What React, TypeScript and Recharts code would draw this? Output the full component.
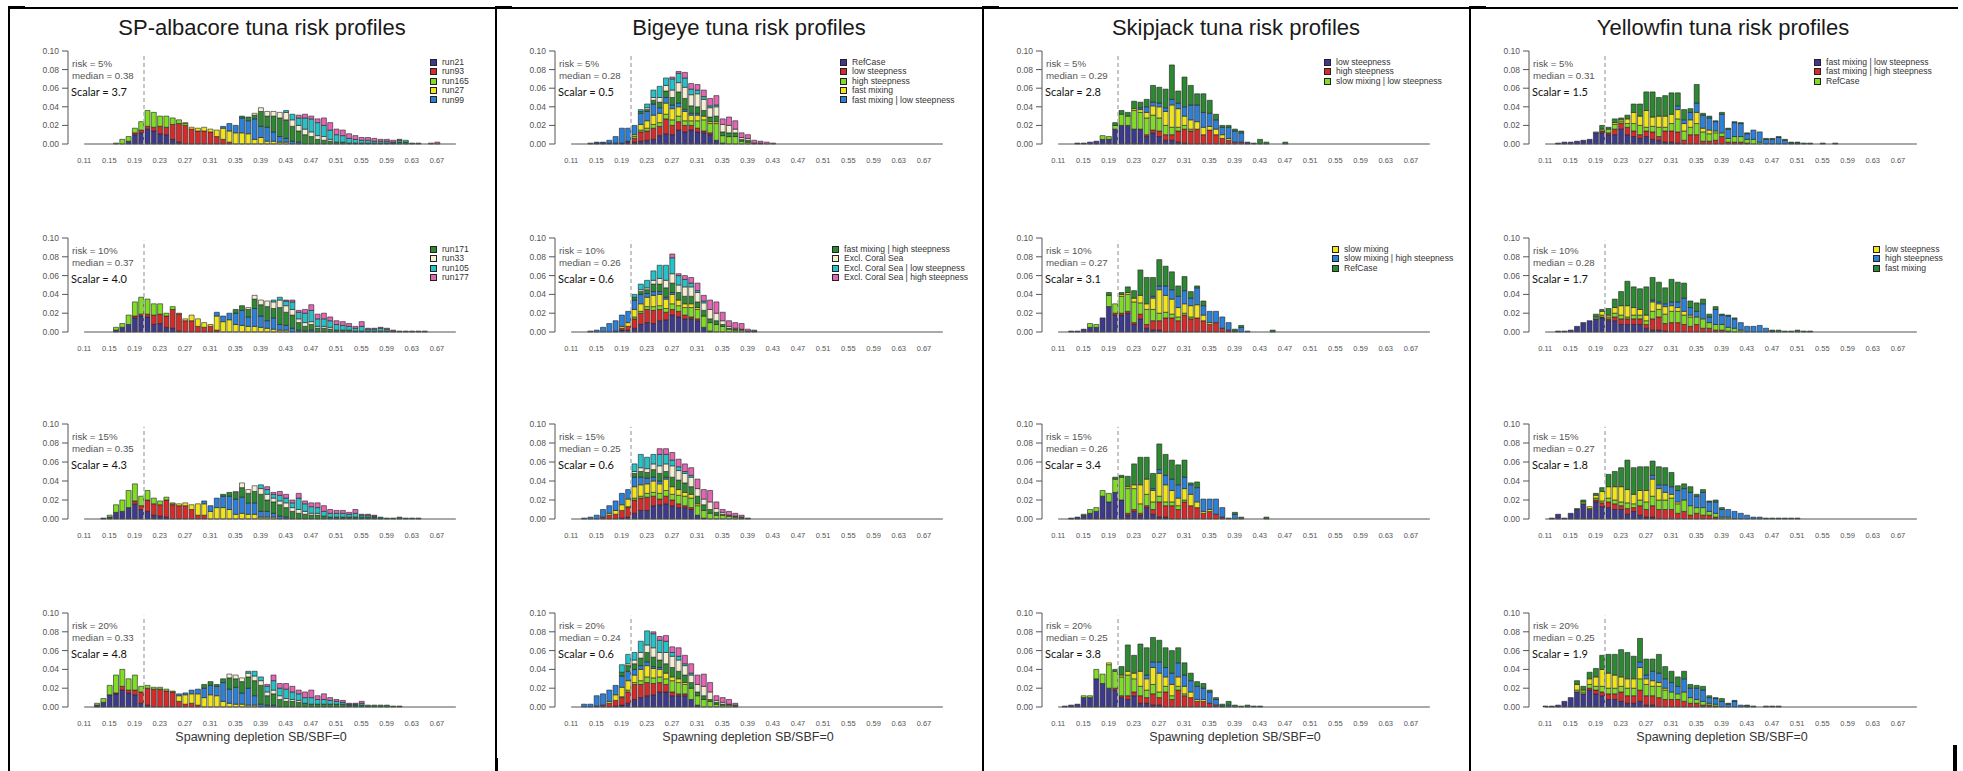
import React from 'react';
import { BarChart, Bar, XAxis, YAxis, ReferenceLine } from 'recharts';

// [first bin in hundredths, heights of consecutive 0.01 bins in thousandths]
type Run = [number, number[]];

const BINS = Array.from({ length: 60 }, (_, i) => ((11 + i) / 100).toFixed(2));
const Y_TICKS = [0, 0.02, 0.04, 0.06, 0.08, 0.1];
const RISKS = ['5%', '10%', '15%', '20%'];

const COLORS = ['#3d3a8e', '#d62b2b', '#80dc24', '#f0e51c', '#2d80d8', '#2d8832', '#f4efd4', '#25c2ca', '#e266b4'];

// ---- SP-albacore ----
const ALB_NAMES = ['run21', 'run93', 'run165', 'run27', 'run99', 'run171', 'run33', 'run105', 'run177'];
const ALB_MEDIANS = ['0.38', '0.37', '0.35', '0.33'];
const ALB_SCALARS = ['3.7', '4.0', '4.3', '4.8'];
const ALB_05: Run[] = [
  [18, [3, 10, 12, 16, 14, 11, 10, 5, 2]],
  [19, [2, 3, 3, 4, 8, 8, 16, 20, 20, 16, 14, 14, 13, 8, 5, 2]],
  [16, [1, 5, 5, 5, 9, 17, 16, 11, 12, 7, 4, 2]],
  [27, [1, 2, 3, 4, 3, 7, 12, 12, 12, 12, 11, 5, 7, 3, 3, 2, 2]],
  [33, [2, 8, 8, 16, 14, 22, 12, 15, 10, 6, 4, 3, 2]],
  [36, [2, 4, 4, 16, 12, 17, 20, 20, 16, 12, 10, 8, 5, 4, 3, 2, 2, 1, 1, 1, 1, 1, 1, 1, 1, 2, 2, 1, 1]],
  [38, [2, 4, 5, 5, 6, 8, 7, 6, 6, 5, 4, 4, 2]],
  [43, [2, 6, 8, 12, 14, 14, 12, 10, 8, 7, 5, 4, 3, 3, 2, 2, 2, 1, 2, 2]],
  [45, [3, 4, 3, 4, 8, 8, 6, 6, 5, 4, 3, 3, 3, 2, 2, 2, 1, 0, 0, 0, 0, 1, 2]],
];
const ALB_10: Run[] = [
  [16, [2, 5, 8, 15, 17, 16, 8, 9, 5, 4, 1]],
  [19, [2, 2, 3, 10, 10, 12, 20, 18, 12, 12, 6, 5, 6, 2]],
  [16, [3, 4, 10, 15, 18, 16, 12, 11, 3, 3, 1]],
  [27, [2, 6, 8, 5, 2, 15, 11, 13, 8, 7, 6, 6, 5, 4, 3, 2, 2]],
  [32, [4, 6, 7, 12, 16, 10, 19, 12, 8, 12, 6, 5, 4, 2, 1, 2]],
  [35, [4, 5, 8, 10, 12, 15, 10, 18, 14, 14, 8, 5, 6, 4, 4, 3, 2, 2, 2, 1, 1, 1, 1, 1, 1, 1, 1, 1, 1, 1, 1]],
  [37, [2, 4, 5, 6, 7, 8, 7, 6, 4, 4, 3, 2, 2, 2]],
  [41, [2, 3, 5, 8, 7, 10, 12, 8, 8, 7, 6, 5, 4, 3, 5, 2, 2, 3, 2]],
  [43, [1, 2, 2, 4, 6, 5, 6, 4, 4, 4, 3, 2, 5, 1, 1, 1, 1, 1]],
];
const ALB_15: Run[] = [
  [14, [1, 2, 7, 8, 12, 16, 10, 8, 4, 3, 2]],
  [19, [3, 4, 12, 12, 12, 18, 15, 14, 14, 10, 4, 4]],
  [15, [2, 8, 12, 18, 18, 10, 10, 6, 4, 3, 1]],
  [25, [1, 2, 3, 5, 12, 12, 8, 12, 12, 10, 5, 6, 5, 5, 2, 2, 2]],
  [30, [3, 6, 10, 12, 14, 16, 17, 12, 12, 6, 6, 4, 3, 2]],
  [33, [2, 4, 7, 10, 10, 12, 18, 12, 12, 12, 10, 8, 6, 5, 4, 4, 3, 2, 2, 2, 2, 2, 2, 2, 2, 1, 1, 1, 2, 1, 1, 1]],
  [35, [1, 5, 4, 6, 6, 6, 4, 4, 5, 4, 4, 3, 2, 2]],
  [39, [4, 5, 4, 6, 5, 5, 12, 8, 7, 6, 5, 4, 4, 4, 3, 4, 2, 2, 1, 1]],
  [40, [3, 2, 4, 4, 3, 5, 3, 4, 5, 6, 4, 3, 3, 2, 4, 1, 1, 1]],
];
const ALB_20: Run[] = [
  [13, [2, 5, 13, 14, 18, 15, 13, 4, 2]],
  [16, [1, 4, 3, 5, 12, 18, 19, 19, 17, 16, 6, 3, 4, 2]],
  [13, [2, 4, 10, 19, 18, 12, 16, 6, 3, 2, 2, 2, 1]],
  [26, [6, 10, 10, 12, 10, 13, 12, 6, 4, 3, 3, 2, 2]],
  [26, [2, 2, 4, 5, 10, 10, 10, 20, 15, 18, 12, 18, 10, 3, 2, 2]],
  [30, [4, 4, 2, 4, 12, 9, 12, 12, 16, 20, 10, 12, 8, 6, 6, 5, 4, 3, 3, 3, 3, 3, 3, 2, 2, 2, 2, 2, 2, 2, 1, 1]],
  [34, [4, 4, 4, 4, 5, 5, 4, 4, 4, 3, 2, 2]],
  [37, [2, 5, 4, 6, 10, 8, 10, 8, 7, 6, 7, 5, 5, 4, 3, 2, 1, 1, 2]],
  [40, [2, 6, 5, 6, 6, 4, 6, 8, 4, 6, 3, 2, 2, 1, 1, 2]],
];

// ---- Bigeye ----
const BET_NAMES = ['RefCase', 'low steepness', 'high steepness', 'fast mixing', 'fast mixing | low steepness',
  'fast mixing | high steepness', 'Excl. Coral Sea', 'Excl. Coral Sea | low steepness', 'Excl. Coral Sea | high steepness'];
const BET_MEDIANS = ['0.28', '0.26', '0.25', '0.24'];
const BET_SCALARS = ['0.5', '0.6', '0.6', '0.6'];
const BET_05: Run[] = [
  [15, [1, 1, 1, 1, 1, 2, 2, 3, 4, 5, 9, 11, 10, 15, 13, 15, 13, 12, 10, 4, 1]],
  [20, [1, 4, 10, 10, 12, 10, 16, 10, 9, 7, 5, 4, 2, 2]],
  [21, [2, 2, 3, 4, 4, 5, 6, 6, 5, 5, 8, 12, 10, 18, 8, 8, 8, 3, 2]],
  [21, [2, 6, 8, 10, 10, 12, 12, 10, 10, 6, 6, 4, 2, 2]],
  [14, [1, 1, 1, 3, 7, 16, 14, 10, 12, 10, 12, 6, 6, 4, 4, 2, 2, 2]],
  [22, [2, 2, 4, 6, 7, 8, 12, 12, 8, 7, 6, 5, 6, 4, 4, 4, 2, 2, 1, 1]],
  [23, [2, 3, 5, 6, 8, 10, 12, 12, 14, 12, 10, 10, 8, 8, 4, 2, 2]],
  [22, [2, 4, 8, 12, 8, 12, 10, 10, 6, 4, 3, 2, 2]],
  [27, [2, 2, 6, 6, 6, 7, 8, 10, 6, 9, 9, 5, 4, 3, 2, 2, 1]],
];
const BET_10: Run[] = [
  [18, [1, 2, 2, 4, 8, 10, 9, 12, 13, 18, 16, 14, 14, 12, 5, 1]],
  [19, [2, 4, 10, 12, 14, 14, 12, 8, 6, 6, 4, 2, 2]],
  [21, [2, 2, 3, 4, 4, 4, 6, 6, 8, 10, 10, 12, 9, 8, 6, 3, 2, 2]],
  [19, [2, 4, 8, 8, 10, 12, 12, 10, 10, 6, 4, 4, 2]],
  [14, [1, 2, 5, 9, 11, 12, 12, 10, 10, 4, 4, 3, 2, 2]],
  [21, [3, 3, 4, 8, 8, 10, 10, 8, 8, 8, 6, 6, 4, 4, 2, 1, 1, 1, 1, 1]],
  [22, [2, 2, 4, 6, 8, 10, 8, 10, 10, 10, 8, 10, 8, 4, 2, 1]],
  [21, [3, 6, 8, 10, 14, 16, 17, 10, 8, 4, 2, 2]],
  [27, [4, 2, 4, 6, 8, 6, 10, 12, 9, 6, 6, 6, 2, 1]],
];
const BET_15: Run[] = [
  [19, [1, 2, 6, 9, 9, 14, 15, 16, 14, 12, 12, 10, 4, 1]],
  [16, [2, 4, 5, 8, 10, 14, 13, 14, 10, 6, 8, 6, 4, 2, 2]],
  [20, [1, 2, 2, 4, 4, 6, 6, 6, 9, 10, 10, 10, 8, 6, 4, 4, 3, 2]],
  [17, [2, 4, 6, 8, 12, 12, 10, 12, 10, 12, 8, 6, 4, 4, 2]],
  [13, [1, 2, 4, 8, 8, 10, 12, 10, 10, 8, 6, 4, 3, 2]],
  [21, [4, 6, 6, 8, 8, 6, 10, 10, 10, 8, 8, 6, 4, 3, 1, 1, 1, 2, 1]],
  [21, [2, 4, 4, 6, 8, 8, 12, 10, 10, 10, 8, 6, 8, 4, 2]],
  [21, [8, 14, 12, 10, 12, 10, 6, 4, 2, 2]],
  [25, [6, 6, 8, 8, 8, 8, 10, 10, 12, 7, 3, 4, 3, 2]],
];
const BET_20: Run[] = [
  [18, [1, 2, 4, 8, 10, 12, 13, 16, 16, 12, 12, 12, 8, 2]],
  [15, [1, 2, 4, 6, 8, 12, 16, 14, 14, 12, 10, 8, 4, 2, 2]],
  [19, [1, 2, 2, 4, 6, 6, 6, 6, 12, 12, 10, 12, 10, 8, 6, 3, 2, 2]],
  [17, [2, 6, 10, 10, 8, 12, 12, 10, 8, 6, 4, 4, 2]],
  [13, [3, 3, 11, 12, 12, 10, 12, 10, 6, 4, 4, 2, 2]],
  [19, [4, 6, 6, 8, 10, 10, 8, 10, 10, 8, 8, 6, 4, 4, 2, 2, 1, 1, 2]],
  [20, [2, 4, 6, 8, 10, 8, 12, 12, 12, 10, 8, 8, 10, 8, 2, 2]],
  [19, [8, 10, 8, 12, 15, 15, 13, 12, 4, 4, 2, 2]],
  [24, [2, 4, 6, 6, 9, 9, 10, 10, 13, 10, 5, 5, 5, 2]],
];

// ---- Skipjack ----
const SKJ_NAMES = ['low steepness', 'high steepness', 'slow mixing | low steepness', 'slow mixing',
  'slow mixing | high steepness', 'RefCase'];
const SKJ_MEDIANS = ['0.29', '0.27', '0.26', '0.25'];
const SKJ_SCALARS = ['2.8', '3.1', '3.4', '3.8'];
const SKJ_05: Run[] = [
  [14, [1, 1, 2, 3, 5, 5, 16, 20, 20, 16, 16, 8, 12, 8, 4, 4, 2, 1]],
  [25, [2, 3, 6, 6, 6, 12, 15, 14, 16, 10, 15, 10, 6, 4, 2, 2, 1]],
  [18, [4, 3, 4, 12, 10, 20, 18, 18, 16, 14, 10, 8, 4, 4, 2]],
  [23, [2, 3, 6, 10, 12, 15, 24, 20, 10, 10, 8, 8, 4, 6, 4, 2]],
  [24, [2, 6, 4, 4, 4, 6, 6, 10, 16, 18, 16, 14, 10, 8, 12, 12, 10, 1, 1]],
  [20, [3, 4, 4, 8, 6, 8, 18, 17, 20, 37, 13, 32, 21, 12, 20, 14, 6, 2, 2, 2, 2, 0, 0, 5, 2, 0, 0, 2]],
];
const SKJ_10: Run[] = [
  [13, [1, 1, 3, 5, 5, 15, 27, 18, 18, 20, 8, 14, 4, 2, 2]],
  [20, [2, 2, 2, 2, 5, 4, 10, 10, 15, 15, 12, 18, 14, 15, 12, 8, 10, 4, 2]],
  [16, [4, 3, 0, 12, 10, 18, 18, 22, 12, 16, 12, 8, 6, 4, 4, 2, 2]],
  [21, [2, 2, 4, 8, 6, 12, 25, 18, 16, 10, 10, 12, 14, 6, 2]],
  [26, [2, 4, 10, 10, 12, 14, 8, 18, 10, 12, 12, 12, 8, 1, 5, 1]],
  [19, [3, 0, 2, 6, 8, 27, 28, 20, 28, 21, 19, 11, 15, 7, 2, 5, 0, 0, 0, 0, 2, 2, 0, 0, 0, 0, 2]],
];
const SKJ_15: Run[] = [
  [13, [1, 2, 4, 6, 8, 24, 18, 28, 20, 4, 8, 4, 12, 5, 2, 2]],
  [22, [2, 2, 2, 2, 5, 16, 12, 14, 10, 18, 14, 12, 6, 8, 5, 2]],
  [15, [1, 4, 4, 6, 9, 14, 24, 26, 22, 10, 12, 8, 6, 4, 4, 4, 2]],
  [22, [2, 4, 20, 16, 12, 24, 18, 12, 8, 12, 12, 6, 2, 2]],
  [26, [2, 4, 10, 12, 14, 12, 10, 15, 13, 11, 16, 10, 0, 5]],
  [20, [2, 2, 11, 22, 29, 23, 16, 27, 22, 20, 21, 18, 2, 6, 0, 0, 0, 0, 1, 2, 2, 0, 0, 0, 2]],
];
const SKJ_20: Run[] = [
  [12, [1, 2, 3, 10, 10, 30, 25, 20, 18, 10, 8, 12, 4, 4, 2, 2]],
  [20, [2, 2, 4, 4, 8, 6, 12, 8, 16, 8, 18, 12, 10, 6, 6, 4, 2]],
  [15, [2, 2, 10, 10, 25, 18, 20, 22, 14, 10, 8, 10, 6, 6, 4, 4, 2]],
  [19, [2, 0, 2, 4, 6, 16, 12, 18, 20, 10, 12, 10, 8, 6, 2, 2]],
  [25, [4, 6, 12, 10, 12, 15, 12, 12, 14, 12, 12, 6, 1, 2]],
  [20, [2, 9, 28, 19, 29, 29, 26, 23, 21, 24, 16, 13, 8, 5, 5, 2, 2, 2, 4, 2, 1, 2, 1, 1]],
];

// ---- Yellowfin ----
const YFT_NAMES = ['fast mixing | low steepness', 'fast mixing | high steepness', 'RefCase', 'low steepness',
  'high steepness', 'fast mixing'];
const YFT_MEDIANS = ['0.31', '0.28', '0.27', '0.25'];
const YFT_SCALARS = ['1.5', '1.7', '1.8', '1.9'];
const YFT_05: Run[] = [
  [13, [1, 2, 2, 3, 4, 5, 12, 12, 10, 10, 16, 10, 8, 6, 8, 5, 4, 2, 2, 1]],
  [20, [2, 2, 6, 6, 8, 6, 4, 6, 8, 4, 12, 12, 12, 4, 10, 10, 3, 3, 4, 8, 2, 2, 2, 1]],
  [19, [1, 2, 4, 5, 2, 4, 8, 10, 4, 6, 10, 4, 8, 14, 10, 8, 12, 10, 8, 8, 4, 4, 6, 6, 4, 5, 2]],
  [22, [2, 2, 5, 12, 10, 18, 10, 12, 12, 10, 10, 8, 8, 12, 4, 4, 2]],
  [32, [4, 4, 8, 10, 14, 13, 10, 20, 10, 15, 14, 6, 10, 11, 5, 5, 7, 4, 1, 1]],
  [20, [4, 2, 4, 2, 4, 9, 13, 20, 27, 20, 22, 23, 14, 11, 4, 20, 2, 2, 1, 2, 1, 1, 1, 1, 0, 0, 1, 1, 1, 1, 1, 1, 1, 1, 0, 1, 0, 1]],
];
const YFT_10: Run[] = [
  [13, [1, 1, 2, 6, 10, 12, 14, 15, 12, 12, 8, 8, 8, 8, 4, 2, 2, 1]],
  [20, [1, 2, 4, 6, 6, 6, 6, 4, 12, 14, 8, 10, 10, 8, 6, 8, 4, 4, 2, 2, 1]],
  [19, [2, 2, 2, 4, 4, 2, 4, 4, 4, 8, 8, 10, 12, 12, 10, 10, 8, 10, 6, 6, 6, 4, 4, 2]],
  [20, [4, 2, 6, 10, 12, 8, 6, 6, 10, 6, 8, 6, 4, 4, 2]],
  [28, [2, 2, 3, 4, 6, 14, 8, 6, 16, 6, 16, 10, 12, 10, 8, 6, 6, 7, 4, 1]],
  [19, [3, 2, 7, 9, 15, 26, 22, 22, 30, 24, 21, 17, 24, 21, 16, 7, 9, 5, 3, 3, 1, 1, 1, 0, 0, 0, 0, 0, 1, 2, 1, 1, 2, 1, 1]],
];
const YFT_15: Run[] = [
  [12, [1, 5, 1, 6, 10, 16, 10, 18, 13, 12, 10, 10, 5, 8, 4, 2, 2]],
  [19, [2, 4, 6, 6, 4, 6, 4, 10, 8, 12, 10, 10, 10, 6, 8, 4, 6, 4, 4, 2]],
  [17, [2, 1, 2, 2, 4, 4, 4, 6, 4, 6, 8, 10, 10, 10, 12, 10, 12, 10, 6, 8, 4, 4, 2, 2]],
  [18, [2, 3, 10, 12, 14, 16, 14, 10, 10, 12, 18, 12, 8, 4, 2]],
  [28, [4, 4, 8, 8, 12, 12, 14, 12, 16, 10, 12, 8, 8, 8, 6, 4, 2, 2]],
  [16, [1, 2, 0, 2, 4, 13, 16, 20, 31, 28, 25, 25, 15, 19, 18, 15, 5, 5, 6, 2, 3, 1, 2, 2, 0, 0, 0, 0, 0, 0, 1, 1, 1, 1, 1, 1]],
];
const YFT_20: Run[] = [
  [11, [1, 1, 2, 6, 10, 16, 14, 18, 14, 12, 8, 8, 6, 4, 4, 6, 2, 2]],
  [18, [2, 4, 4, 6, 6, 10, 8, 8, 12, 10, 10, 10, 8, 8, 8, 6, 4, 4, 2, 2, 1]],
  [16, [2, 2, 4, 4, 6, 6, 6, 6, 8, 8, 12, 12, 10, 12, 10, 8, 6, 10, 6, 4, 4, 2, 2]],
  [16, [6, 2, 6, 10, 18, 16, 14, 10, 10, 10, 12, 6, 6, 4, 2]],
  [26, [6, 4, 10, 10, 10, 10, 8, 14, 10, 12, 12, 6, 6, 6, 3, 6, 2, 1]],
  [16, [4, 4, 7, 9, 15, 20, 22, 29, 28, 24, 25, 17, 13, 20, 13, 12, 10, 8, 4, 3, 4, 2, 1, 3, 1, 1, 0, 1, 1, 0, 1, 1, 1]],
];

const PANEL_W = 487;
const ROW_TOPS = [51, 238, 424, 613];
const ROW_HEIGHTS = [93, 94, 95, 94];

const SPECIES = [
  {
    title: 'SP-albacore tuna risk profiles', left: 8, names: ALB_NAMES, split: 5,
    runs: [ALB_05, ALB_10, ALB_15, ALB_20], medians: ALB_MEDIANS, scalars: ALB_SCALARS, legendX: [422, 422],
  },
  {
    title: 'Bigeye tuna risk profiles', left: 495, names: BET_NAMES, split: 5,
    runs: [BET_05, BET_10, BET_15, BET_20], medians: BET_MEDIANS, scalars: BET_SCALARS, legendX: [345, 337],
  },
  {
    title: 'Skipjack tuna risk profiles', left: 982, names: SKJ_NAMES, split: 3,
    runs: [SKJ_05, SKJ_10, SKJ_15, SKJ_20], medians: SKJ_MEDIANS, scalars: SKJ_SCALARS, legendX: [342, 350],
  },
  {
    title: 'Yellowfin tuna risk profiles', left: 1469, names: YFT_NAMES, split: 3,
    runs: [YFT_05, YFT_10, YFT_15, YFT_20], medians: YFT_MEDIANS, scalars: YFT_SCALARS, legendX: [345, 404],
  },
];

type Species = typeof SPECIES[number];

function buildRows(runs: Run[]) {
  const rows = BINS.map((bin) => {
    const r: Record<string, number | string> = { bin };
    runs.forEach((_, k) => { r['s' + k] = 0; });
    return r;
  });
  runs.forEach(([start, vals], k) => {
    vals.forEach((v, j) => {
      const row = rows[start - 11 + j];
      if (row) row['s' + k] = v / 1000;
    });
  });
  return rows;
}

const ARIAL = 'Liberation Sans, Arial, sans-serif';
const X_FONT = { fontSize: 7.5, fill: '#555', fontFamily: ARIAL };
const Y_FONT = { fontSize: 8.5, fill: '#555', fontFamily: ARIAL };

function Txt({ x, y, size, color, family, children }: any) {
  return (
    <div style={{
      position: 'absolute', left: x, top: y, transform: 'translateY(-50%)', fontSize: size,
      color, fontFamily: family, whiteSpace: 'nowrap', lineHeight: 1,
    }}>{children}</div>
  );
}

function RiskChart({ sp, r }: { sp: Species; r: number }) {
  const data = buildRows(sp.runs[r]);
  const top = ROW_TOPS[r];
  const h = ROW_HEIGHTS[r];
  const legendNames = r === 0 ? sp.names.slice(0, sp.split) : r === 1 ? sp.names.slice(sp.split) : [];
  const legendOffset = r === 0 ? 0 : sp.split;
  return (
    <>
      <div style={{ position: 'absolute', left: sp.left, top: top - 10 }}>
        <BarChart width={PANEL_W} height={h + 40} data={data} margin={{ top: 10, right: 36, bottom: 0, left: 20 }}>
          <XAxis dataKey="bin" interval={3} tickLine={false} axisLine={false} padding={{ left: 13, right: 0 }}
            height={30} tick={X_FONT} tickMargin={8} />
          <YAxis width={40} domain={[0, 0.1]} ticks={Y_TICKS} tickFormatter={(v: number) => v.toFixed(2)}
            tick={Y_FONT} axisLine={{ stroke: '#555' }} tickLine={{ stroke: '#555' }} tickSize={6} tickMargin={3} />
          {sp.names.map((n, k) => (
            <Bar key={n} dataKey={'s' + k} stackId="a" fill={COLORS[k]} stroke="#222" strokeWidth={0.6}
              barSize={5} isAnimationActive={false} />
          ))}
          <ReferenceLine segment={[{ x: '0.11', y: 0 }, { x: '0.70', y: 0 }]} stroke="#555" strokeWidth={1.2} />
          <ReferenceLine segment={[{ x: '0.20', y: 0 }, { x: '0.20', y: 0.097 }]} position="end"
            stroke="#b4b4b4" strokeDasharray="4 3" strokeWidth={1.5} />
        </BarChart>
      </div>
      <Txt x={sp.left + 64} y={top + 12.5} size={9.7} color="#555" family={ARIAL}>risk = {RISKS[r]}</Txt>
      <Txt x={sp.left + 64} y={top + 24.5} size={9.7} color="#555" family={ARIAL}>median = {sp.medians[r]}</Txt>
      <Txt x={sp.left + 63} y={top + 39.5} size={11} color="#111" family="Lato, sans-serif">Scalar = {sp.scalars[r]}</Txt>
      {legendNames.map((n, i) => (
        <div key={n} style={{ position: 'absolute', left: sp.left + sp.legendX[r], top: top + 10.5 + i * 9.4 - 3.5, display: 'flex', alignItems: 'center' }}>
          <div style={{ width: 5, height: 5, background: COLORS[legendOffset + i], border: '1px solid #222' }} />
          <div style={{ marginLeft: 5, fontSize: 8.6, color: '#333', fontFamily: ARIAL, lineHeight: 1, whiteSpace: 'nowrap' }}>{n}</div>
        </div>
      ))}
    </>
  );
}

function SpeciesPanel({ sp }: { sp: Species }) {
  return (
    <>
      <div style={{ position: 'absolute', left: sp.left, top: 7, width: 1.5, height: 764, background: '#000' }} />
      <div style={{ position: 'absolute', left: sp.left, top: 6, width: 17, height: 3, background: '#000' }} />
      <div style={{
        position: 'absolute', left: sp.left + 254 - 200, width: 400, top: 28, transform: 'translateY(-50%)',
        textAlign: 'center', fontSize: 22, color: '#1a1a1a', fontFamily: ARIAL, lineHeight: 1, whiteSpace: 'nowrap',
      }}>{sp.title}</div>
      {[0, 1, 2, 3].map((r) => <RiskChart key={r} sp={sp} r={r} />)}
      <div style={{
        position: 'absolute', left: sp.left + 253 - 150, width: 300, top: ROW_TOPS[3] + ROW_HEIGHTS[3] + 30,
        transform: 'translateY(-50%)', textAlign: 'center', fontSize: 12.5, color: '#333', fontFamily: ARIAL,
        lineHeight: 1, whiteSpace: 'nowrap',
      }}>Spawning depletion SB/SBF=0</div>
    </>
  );
}

export default function App() {
  return (
    <div style={{ position: 'absolute', left: 0, top: 0, width: 1963, height: 771, overflow: 'hidden', background: '#fff' }}>
      <div style={{ position: 'absolute', left: 8, top: 7, width: 1950, height: 1.5, background: '#000' }} />
      {SPECIES.map((sp) => <SpeciesPanel key={sp.title} sp={sp} />)}
      <div style={{ position: 'absolute', left: 495, top: 758, width: 3, height: 13, background: '#000' }} />
      <div style={{ position: 'absolute', left: 1953, top: 745, width: 4, height: 26, background: '#000' }} />
    </div>
  );
}
